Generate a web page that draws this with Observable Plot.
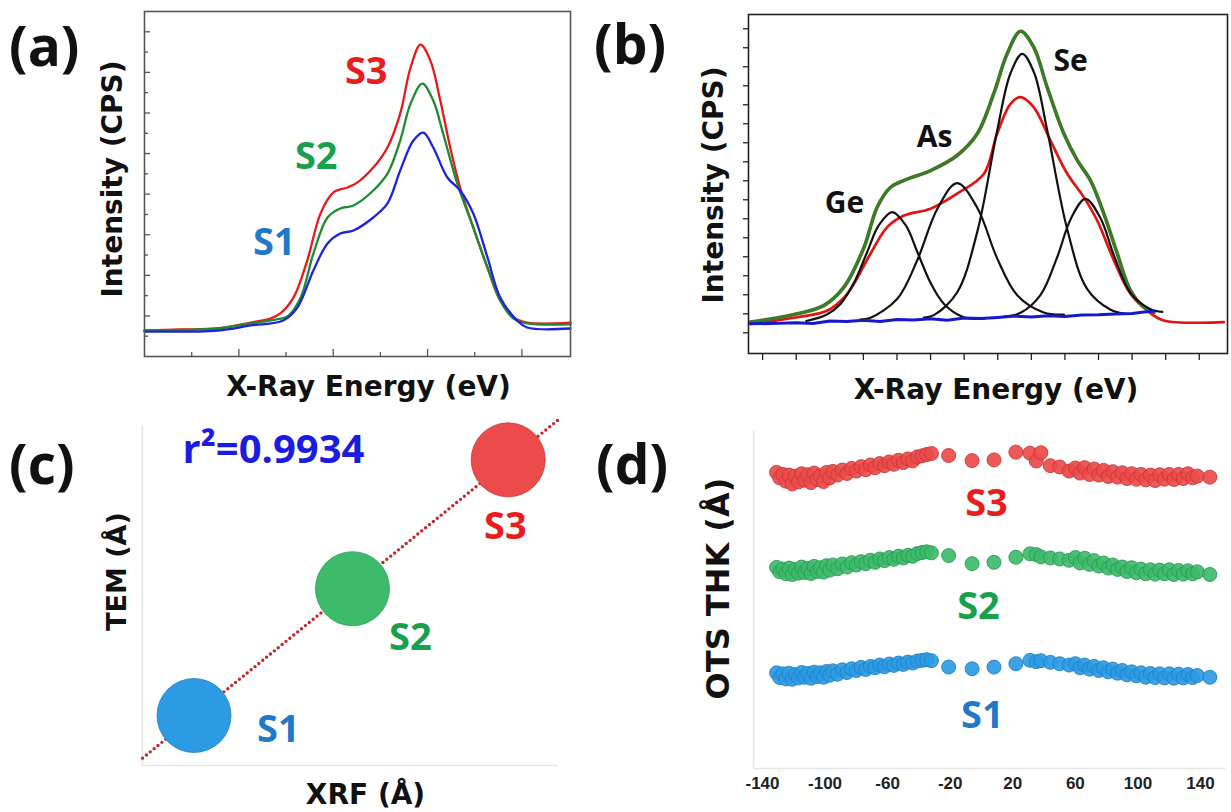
<!DOCTYPE html>
<html><head><meta charset="utf-8">
<script src="https://cdn.jsdelivr.net/npm/d3@7"></script>
<script src="https://cdn.jsdelivr.net/npm/@observablehq/plot@0.6"></script>
<style>
body{margin:0;background:#fff;}
#fig{position:relative;width:1231px;height:812px;overflow:hidden;background:#fff;font-family:"Open Sans",sans-serif;}
.panel{position:absolute;}
.tag{position:absolute;font-weight:700;font-size:55px;line-height:1;color:#111;font-family:"Open Sans",sans-serif;}
</style></head><body>
<div id="fig">
  <div class="panel" id="pa" style="left:0;top:0"></div>
  <div class="panel" id="pb" style="left:600px;top:0"></div>
  <div class="panel" id="pc" style="left:0;top:410px"></div>
  <div class="panel" id="pd" style="left:600px;top:410px"></div>
  <div class="tag" style="left:9px;top:17px">(a)</div>
  <div class="tag" style="left:594px;top:15px">(b)</div>
  <div class="tag" style="left:9px;top:435px">(c)</div>
  <div class="tag" style="left:596px;top:435px">(d)</div>
</div>
<script>
// ---------- Panel (a): XRF spectra, [energy, intensity] ----------
const specA_S3 = [[0,1.28],[0.76,1.33],[1.55,1.38],[2.25,1.67],[2.67,1.87],[2.88,2.12],[3.16,2.91],[3.45,4.73],[3.73,7.04],[4.00,8.08],[4.30,8.33],[4.51,8.57],[4.85,9.31],[5.15,10.30],[5.42,11.97],[5.64,14.24],[5.85,15.37],[6.06,14.58],[6.27,12.61],[6.48,10.30],[6.69,8.33],[6.97,6.35],[7.27,4.38],[7.54,2.76],[7.82,1.92],[8.11,1.67],[9.03,1.67]];
const specA_S2 = [[0,1.28],[1.55,1.38],[2.25,1.63],[2.78,1.82],[3.03,1.97],[3.31,2.91],[3.58,5.07],[3.88,6.85],[4.15,7.29],[4.43,7.44],[4.85,8.18],[5.15,9.01],[5.42,10.64],[5.64,12.46],[5.89,13.45],[6.12,12.61],[6.33,10.99],[6.63,8.52],[6.97,6.35],[7.27,4.38],[7.54,2.76],[7.82,1.87],[8.11,1.63],[9.03,1.58]];
const specA_S1 = [[0,1.23],[1.55,1.28],[2.25,1.53],[2.94,1.77],[3.24,2.41],[3.58,4.24],[3.88,5.57],[4.15,6.06],[4.43,6.21],[4.85,6.85],[5.15,7.54],[5.42,9.16],[5.70,10.64],[5.91,11.03],[6.12,10.30],[6.42,8.82],[6.69,8.18],[6.97,7.04],[7.27,4.88],[7.54,2.91],[7.90,1.77],[8.11,1.43],[9.03,1.38]];
const labelsA = [["S1",2.75,5.62],["S2",3.64,9.85],["S3",4.70,14.04]];

// ---------- Panel (b): measured, fitted envelope, background and element peaks ----------
const specB_meas = [[-0.36,1.47],[1.03,1.82],[1.93,2.17],[2.52,3.05],[3.21,5.16],[3.71,6.56],[4.21,7.17],[5.0,7.53],[5.79,8.32],[6.59,9.37],[6.98,11.47],[7.38,13.05],[7.68,13.4],[8.07,12.87],[8.57,11.11],[9.07,9.37],[9.56,8.14],[9.96,6.91],[10.46,4.80],[10.95,3.05],[11.45,2.17],[11.94,1.65],[13.73,1.56]];
const specB_fit = [[-0.36,1.56],[1.03,2.0],[1.83,2.44],[2.42,3.40],[3.02,5.50],[3.41,7.61],[3.81,8.66],[4.21,9.02],[5.0,9.54],[5.79,10.33],[6.39,11.47],[6.88,13.58],[7.28,15.68],[7.68,16.87],[8.07,16.03],[8.47,13.93],[8.97,11.47],[9.37,10.07],[9.76,9.02],[10.16,7.26],[10.56,5.16],[10.95,3.23],[11.35,2.35],[11.65,2.08]];
const specB_bg = [[-0.36,1.47],[0.5,1.50],[1.0,1.53],[1.5,1.49],[2.0,1.62],[2.5,1.59],[3.0,1.66],[3.5,1.60],[4.0,1.70],[4.5,1.67],[5.0,1.74],[5.5,1.66],[6.0,1.78],[6.5,1.75],[7.0,1.81],[7.5,1.88],[8.0,1.83],[8.5,1.90],[9.0,1.86],[9.5,1.94],[10.0,1.95],[10.5,1.99],[11.0,2.02],[11.3,2.08],[11.64,2.14]];
const peakB_Ge = [[1.30,1.62],[1.90,1.95],[2.32,2.52],[2.72,3.63],[3.12,5.28],[3.46,6.66],[3.86,7.35],[4.26,6.66],[4.60,5.28],[5.0,3.63],[5.40,2.52],[5.99,1.82],[6.60,1.74]];
const peakB_As = [[2.90,1.70],[3.21,1.79],[4.01,2.79],[4.60,4.80],[5.20,7.51],[5.79,8.88],[6.39,7.58],[6.98,4.93],[7.58,2.98],[8.37,2.07],[8.97,1.96]];
const peakB_Se = [[4.80,1.80],[5.10,1.93],[5.79,3.12],[6.39,6.31],[6.98,11.61],[7.38,14.66],[7.73,15.68],[8.08,14.70],[8.47,11.68],[9.07,6.44],[9.66,3.31],[10.36,2.21],[10.80,2.00]];
const peakB_4 = [[7.20,1.85],[7.68,2.05],[8.27,2.98],[8.77,4.98],[9.17,6.98],[9.61,8.05],[10.06,7.03],[10.46,5.07],[10.95,3.10],[11.55,2.24],[11.90,2.10]];
const labelsB = [["Ge",2.44,7.80],["As",5.12,11.28],["Se",9.17,15.28]];

// ---------- Panel (c): XRF vs TEM ----------
const samples = ["S1","S2","S3"];
const xrf = [1.3, 5.3, 9.23];
const tem = [1.47, 5.2, 8.99];
const r2Text = "r\u00B2=0.9934";
const labelsC = [[3.43,1.06],[6.76,3.76],[9.16,7.03]];

// ---------- Panel (d): OTS thickness line scan ----------
const ots_x = [-131,-129,-127,-125,-123,-121,-119,-117,-115,-113,-111,-109,-107,-105,-103,-101,-99,-97,-95,-92,-89,-86,-83,-80,-77,-74,-71,-68,-65,-62,-59,-56,-53,-50,-47,-44,-41,-38,-35,-32,-21,-6,8,22,31,35,38,44,50,56,60,63,66,69,72,75,78,81,84,87,90,93,96,99,102,105,108,111,114,117,120,123,126,129,132,135,138,146];
const ots_s3 = [87.6,86.0,87.0,85.0,86.8,84.2,86.5,84.8,87.2,85.3,86.9,84.6,87.4,85.5,86.6,84.9,87.6,86.0,87.9,86.8,88.3,87.3,88.8,88.0,89.3,88.4,89.8,89.0,90.2,89.6,90.7,90.0,91.2,90.5,91.6,91.0,92.2,92.5,92.9,93.2,92.6,91.1,91.3,93.6,93.3,91.0,93.4,89.6,89.2,88.0,88.9,87.4,89.0,87.0,88.6,86.8,88.2,86.4,87.8,86.2,87.5,85.8,87.2,85.6,87.0,85.4,86.8,85.2,86.9,85.6,87.0,85.5,87.0,85.8,87.2,86.0,86.5,86.2];
const ots_s2 = [59.5,58.2,59.0,57.6,59.3,57.4,58.9,57.8,59.6,58.0,59.2,57.7,59.8,58.3,59.4,58.1,60.0,58.7,60.2,59.1,60.5,59.6,60.9,60.2,61.2,60.6,61.6,61.0,62.0,61.5,62.4,61.9,62.8,62.3,63.1,62.8,63.6,63.9,64.1,63.8,63.0,60.6,61.0,62.5,63.5,63.3,62.6,62.3,62.0,61.6,62.4,60.8,62.2,60.4,61.5,59.9,60.8,59.3,60.2,58.9,59.6,58.3,59.4,57.9,59.0,57.6,58.8,57.5,58.7,57.6,58.8,57.4,58.6,57.5,58.5,57.6,58.2,57.4];
const ots_s1 = [28.3,26.9,28.0,26.5,28.2,26.4,27.8,26.8,28.4,27.0,28.1,26.7,28.5,27.2,28.3,27.0,28.7,27.6,28.9,27.9,29.2,28.4,29.5,29.0,29.9,29.3,30.2,29.8,30.6,30.1,30.9,30.5,31.2,30.8,31.5,31.2,31.8,32.0,32.2,31.9,30.0,29.5,30.0,31.0,32.0,31.6,31.9,31.4,31.0,30.6,31.0,29.8,30.6,29.4,30.2,29.0,29.8,28.6,29.4,28.2,29.0,27.7,28.6,27.4,28.3,27.0,28.1,26.9,28.0,26.8,28.0,26.7,27.9,26.8,27.8,26.9,27.5,27.0];
const ticksD = [-140,-100,-60,-20,20,60,100,140];
const labelsD = [[0.6,15.7],[-1.9,47.9],[3.2,78.4]];

// ---------- colours ----------
const lineCol = {S1:"#1c22dd", S2:"#1f8a2e", S3:"#e8191c"};
const textCol = {S1:"#1f78c8", S2:"#19a04c", S3:"#e81e1e"};
const dotFill = {S1:"#2d9be3", S2:"#3dbb6b", S3:"#ec4b4b"};
const dotStroke = {S1:"#1f80c6", S2:"#2a9a50", S3:"#cc3636"};

const pts = arr => arr.map(([x,y]) => ({x,y}));
const baseStyle = {fontFamily:"Open Sans, sans-serif", overflow:"visible", background:"transparent", color:"#111"};
const titleOpts = {fontSize:28, fontWeight:"bold", fill:"#111", fontFamily:"DejaVu Sans, sans-serif", textAnchor:"middle", lineAnchor:"middle"};

// ---------- (a) ----------
const pa = Plot.plot({
  width:600, height:410, marginLeft:144, marginTop:11, marginRight:30, marginBottom:54,
  x:{domain:[0,9.03]}, y:{domain:[0,17]},
  style:baseStyle,
  marks:[
    Plot.axisX({ticks:[2,4,6,8], tickSize:-7, tickFormat:()=>"", label:null, stroke:"#555", strokeWidth:1.3}),
    Plot.axisX({ticks:[1,3,5,7], tickSize:-4, tickFormat:()=>"", label:null, stroke:"#555", strokeWidth:1.3}),
    Plot.axisY({ticks:d3.range(2,17,2), tickSize:-6, tickFormat:()=>"", label:null, stroke:"#555", strokeWidth:1.3}),
    Plot.axisY({ticks:d3.range(1,17,2), tickSize:-4, tickFormat:()=>"", label:null, stroke:"#555", strokeWidth:1.3}),
    Plot.line(pts(specA_S3), {x:"x", y:"y", stroke:lineCol.S3, strokeWidth:2.3, curve:"catmull-rom"}),
    Plot.line(pts(specA_S2), {x:"x", y:"y", stroke:lineCol.S2, strokeWidth:2.3, curve:"catmull-rom"}),
    Plot.line(pts(specA_S1), {x:"x", y:"y", stroke:lineCol.S1, strokeWidth:2.3, curve:"catmull-rom"}),
    Plot.frame({stroke:"#555", strokeWidth:1.6}),
    Plot.text(labelsA, {x:d=>d[1], y:d=>d[2], text:d=>d[0], fill:d=>textCol[d[0]], fontSize:38, fontWeight:"bold"}),
    Plot.text(["X-Ray Energy (eV)"], {frameAnchor:"bottom", dx:11, dy:31, ...titleOpts}),
    Plot.text(["Intensity (CPS)"], {frameAnchor:"left", rotate:-90, dx:-31, dy:-5, ...titleOpts})
  ]
});
document.getElementById("pa").append(pa);

// ---------- (b) ----------
const pb = Plot.plot({
  width:631, height:410, marginLeft:148, marginTop:14, marginRight:4, marginBottom:57,
  x:{domain:[-0.42,13.84]}, y:{domain:[-0.09,17.75]},
  style:baseStyle,
  marks:[
    Plot.axisX({ticks:d3.range(0,14), tickSize:7, tickFormat:()=>"", label:null, stroke:"#222", strokeWidth:1.3}),
    Plot.axisY({ticks:d3.range(1,18), tickSize:5, tickFormat:()=>"", label:null, stroke:"#222", strokeWidth:1.3}),
    Plot.line(pts(specB_meas), {x:"x", y:"y", stroke:"#e51212", strokeWidth:2.7, curve:"catmull-rom"}),
    Plot.line(pts(specB_fit), {x:"x", y:"y", stroke:"#6b5a1a", strokeWidth:3.6, curve:"catmull-rom"}),
    Plot.line(pts(specB_fit), {x:"x", y:"y", stroke:"#23892a", strokeWidth:2.2, curve:"catmull-rom"}),
    Plot.line(pts(peakB_Ge), {x:"x", y:"y", stroke:"#111", strokeWidth:2.2, curve:"catmull-rom"}),
    Plot.line(pts(peakB_As), {x:"x", y:"y", stroke:"#111", strokeWidth:2.2, curve:"catmull-rom"}),
    Plot.line(pts(peakB_Se), {x:"x", y:"y", stroke:"#111", strokeWidth:2.2, curve:"catmull-rom"}),
    Plot.line(pts(peakB_4), {x:"x", y:"y", stroke:"#111", strokeWidth:2.2, curve:"catmull-rom"}),
    Plot.line(pts(specB_bg), {x:"x", y:"y", stroke:"#1717cc", strokeWidth:3}),
    Plot.frame({stroke:"#222", strokeWidth:1.6}),
    Plot.text(labelsB, {x:d=>d[1], y:d=>d[2], text:d=>d[0], fill:"#111", fontSize:30, fontWeight:"bold"}),
    Plot.text(["X-Ray Energy (eV)"], {frameAnchor:"bottom", dx:8, dy:37, ...titleOpts}),
    Plot.text(["Intensity (CPS)"], {frameAnchor:"left", rotate:-90, dx:-34, dy:1, ...titleOpts})
  ]
});
document.getElementById("pb").append(pb);

// ---------- (c) ----------
const cData = samples.map((s,i) => ({s, x:xrf[i], y:tem[i]}));
const mx = d3.mean(xrf), my = d3.mean(tem);
const slope = d3.sum(xrf, (x,i) => (x-mx)*(tem[i]-my)) / d3.sum(xrf, x => (x-mx)**2);
const icpt = my - slope*mx;
const xDomC = [0, 10.5];
const fitLine = xDomC.map(x => ({x, y: icpt + slope*x}));
const pc = Plot.plot({
  width:600, height:402, marginLeft:142, marginTop:15, marginRight:42, marginBottom:47,
  x:{domain:xDomC, axis:null}, y:{domain:[0,10], axis:null},
  style:baseStyle,
  marks:[
    Plot.ruleX([xDomC[0]], {stroke:"#e6e6e6", strokeWidth:1.5}),
    Plot.ruleY([0], {stroke:"#e6e6e6", strokeWidth:1.5}),
    Plot.line(fitLine, {x:"x", y:"y", stroke:"#c4262b", strokeWidth:3.4, strokeDasharray:"0 5", strokeLinecap:"round"}),
    Plot.dot(cData, {x:"x", y:"y", r:37, fill:d=>dotFill[d.s], stroke:d=>dotStroke[d.s], strokeWidth:0.8}),
    Plot.text(samples, {x:(d,i)=>labelsC[i][0], y:(d,i)=>labelsC[i][1], text:d=>d, fill:d=>textCol[d], fontSize:38, fontWeight:"bold"}),
    Plot.text([r2Text], {frameAnchor:"top-left", dx:40, dy:25, textAnchor:"start", lineAnchor:"middle", fill:"#1c1ce0", fontSize:40, fontWeight:"bold"}),
    Plot.text(["XRF (Å)"], {frameAnchor:"bottom", dx:15, dy:30, ...titleOpts}),
    Plot.text(["TEM (Å)"], {frameAnchor:"left", rotate:-90, dx:-25, dy:-24, ...titleOpts, fontSize:27})
  ]
});
document.getElementById("pc").append(pc);

// ---------- (d) ----------
const dData = [];
[["S3",ots_s3],["S2",ots_s2],["S1",ots_s1]].forEach(([s,arr]) => arr.forEach((v,i) => dData.push({s, x:ots_x[i], y:v})));
const xDomD = [-145.75, 156];
const pd = Plot.plot({
  width:631, height:402, marginLeft:153, marginTop:20, marginRight:6, marginBottom:44,
  x:{domain:xDomD}, y:{domain:[0,100], axis:null},
  style:baseStyle,
  marks:[
    Plot.ruleX([xDomD[0]], {stroke:"#e6e6e6", strokeWidth:1.5}),
    Plot.ruleY([0], {stroke:"#e6e6e6", strokeWidth:1.5}),
    Plot.axisX({ticks:ticksD, tickSize:0, tickPadding:8, tickFormat:d=>String(d), label:null, fontSize:17, fontWeight:"bold", fontFamily:"Liberation Sans, Arial, sans-serif", fill:"#222"}),
    Plot.dot(dData, {x:"x", y:"y", r:7, fill:d=>dotFill[d.s], stroke:d=>dotStroke[d.s], strokeWidth:0.9, fillOpacity:0.92}),
    Plot.text(samples, {x:(d,i)=>labelsD[i][0], y:(d,i)=>labelsD[i][1], text:d=>d, fill:d=>textCol[d], fontSize:38, fontWeight:"bold"}),
    Plot.text(["OTS THK (Å)"], {frameAnchor:"left", rotate:-90, dx:-35, dy:-11, ...titleOpts, fontSize:32})
  ]
});
document.getElementById("pd").append(pd);
</script>
</body></html>
